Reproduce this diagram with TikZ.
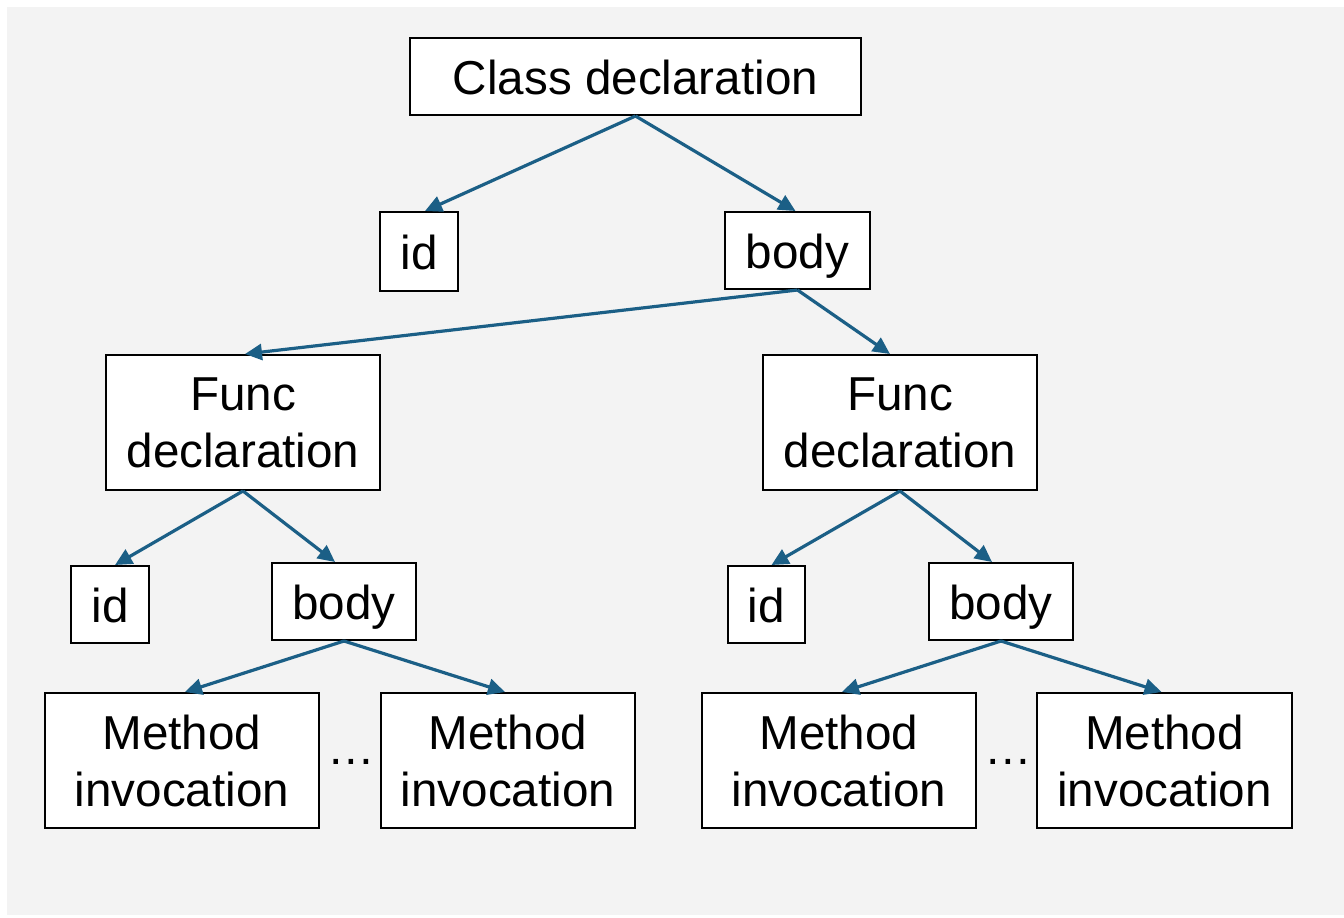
\documentclass[tikz,border=0pt]{standalone}
\usepackage{fontspec}
\setmainfont{Liberation Sans}
\usetikzlibrary{arrows.meta}
\definecolor{edgeblue}{HTML}{1B5F86}
\definecolor{panel}{HTML}{F3F3F3}
\tikzset{
  box/.style={draw=black, line width=1pt, fill=white, inner sep=0pt, align=center,
    font=\fontsize{23.8}{28.5}\selectfont},
  word/.style={box, text height=19pt, text depth=1pt},
  link/.style={draw=edgeblue, line width=1.6pt, -{Triangle[length=8.5pt,width=8pt]}},
  gap/.style={font=\fontsize{23.8}{28.5}\selectfont, inner sep=0pt}
}
\begin{document}
\begin{tikzpicture}[x=0.5pt, y=-0.5pt]
  % page and grey panel
  \useasboundingbox (0,0) rectangle (1344,917);
  \fill[white] (0,0) rectangle (1344,917);
  \fill[panel] (7,7) rectangle (1344,915);

  % root
  \node[word, minimum width=225.5pt, minimum height=38.5pt] (cls) at (635.5,76.5) {Class declaration};
  \node[word, minimum width=39pt, minimum height=39.5pt] (cid) at (419,251.5) {id};
  \node[word, minimum width=72.5pt, minimum height=38.5pt] (cbody) at (797.5,250.5) {body};

  % left function
  \node[box, minimum width=137pt, minimum height=67.5pt] (fl) at (243,422.5) {Func\\declaration};
  \node[word, minimum width=39pt, minimum height=38.5pt] (flid) at (110,604.5) {id};
  \node[word, minimum width=72pt, minimum height=38.5pt] (flbody) at (344,601.5) {body};
  \node[box, minimum width=137pt, minimum height=67.5pt] (ml1) at (182,760.5) {Method\\invocation};
  \node[box, minimum width=127pt, minimum height=67.5pt] (ml2) at (508,760.5) {Method\\invocation};
  \node[gap] (dl) at (351,762) {\dots};

  % right function
  \node[box, minimum width=137pt, minimum height=67.5pt] (fr) at (900,422.5) {Func\\declaration};
  \node[word, minimum width=38.5pt, minimum height=38.5pt] (frid) at (766.5,604.5) {id};
  \node[word, minimum width=72pt, minimum height=38.5pt] (frbody) at (1001,601.5) {body};
  \node[box, minimum width=137pt, minimum height=67.5pt] (mr1) at (839,760.5) {Method\\invocation};
  \node[box, minimum width=127.5pt, minimum height=67.5pt] (mr2) at (1164.5,760.5) {Method\\invocation};
  \node[gap] (dr) at (1008,762) {\dots};

  % edges
  \draw[link] (cls.south) -- ([xshift=3pt]cid.north);
  \draw[link] (cls.south) -- ([xshift=-1pt]cbody.north);
  \draw[link] (cbody.south) -- ([xshift=1pt]fl.north);
  \draw[link] (cbody.south) -- ([xshift=-5pt]fr.north);
  \draw[link] (fl.south) -- ([xshift=2.5pt]flid.north);
  \draw[link] (fl.south) -- ([xshift=-4.5pt]flbody.north);
  \draw[link] (flbody.south) -- ([xshift=1.5pt]ml1.north);
  \draw[link] (flbody.south) -- ([xshift=-1.5pt]ml2.north);
  \draw[link] (fr.south) -- ([xshift=2.5pt]frid.north);
  \draw[link] (fr.south) -- ([xshift=-4.5pt]frbody.north);
  \draw[link] (frbody.south) -- ([xshift=1.5pt]mr1.north);
  \draw[link] (frbody.south) -- ([xshift=-1.5pt]mr2.north);
\end{tikzpicture}
\end{document}
